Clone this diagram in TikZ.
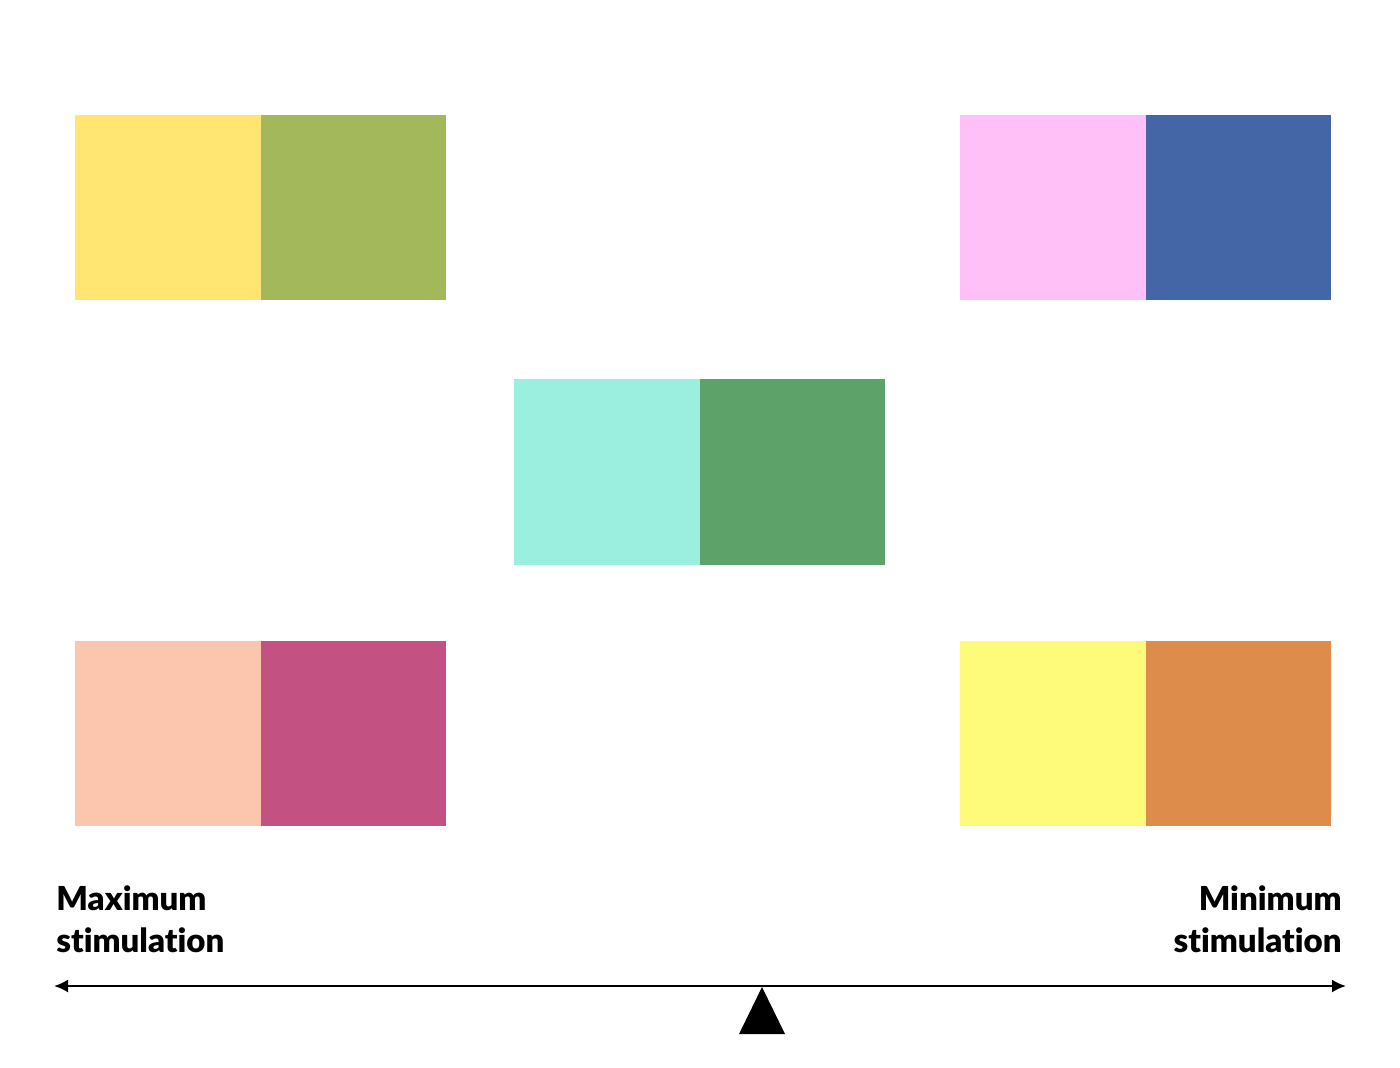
\documentclass[tikz,border=0pt]{standalone}
\usepackage{fontspec}
\setmainfont{Lato}[BoldFont={Lato Black},Ligatures=NoCommon]
\usetikzlibrary{arrows.meta}
\definecolor{cYellow}{HTML}{FFE673}
\definecolor{cOlive}{HTML}{A3B85B}
\definecolor{cPink}{HTML}{FFC0F8}
\definecolor{cBlue}{HTML}{4466A6}
\definecolor{cAqua}{HTML}{9AEFDF}
\definecolor{cGreen}{HTML}{5DA268}
\definecolor{cPeach}{HTML}{FCC5AE}
\definecolor{cMagenta}{HTML}{C35283}
\definecolor{cLemon}{HTML}{FFFB7A}
\definecolor{cOrange}{HTML}{DE8C4C}
\begin{document}
\begin{tikzpicture}[x=0.5pt,y=-0.5pt,
  swatch/.style={draw=none},
  label/.style={inner sep=0pt,font=\bfseries\fontsize{16.5}{21}\selectfont},
  axis/.style={line width=1.1pt,{Latex[length=7pt,width=6.5pt]}-{Latex[length=7pt,width=6.5pt]}}]
\useasboundingbox[fill=white] (0,0) rectangle (1400,1067);
% top left
\fill[cYellow] (75,115) rectangle (261,300);
\fill[cOlive] (261,115) rectangle (446,300);
% top right
\fill[cPink] (960,115) rectangle (1146,300);
\fill[cBlue] (1146,115) rectangle (1331,300);
% middle
\fill[cAqua] (514,379) rectangle (700,565);
\fill[cGreen] (700,379) rectangle (885,565);
% bottom left
\fill[cPeach] (75,641) rectangle (261,826);
\fill[cMagenta] (261,641) rectangle (446,826);
% bottom right
\fill[cLemon] (960,641) rectangle (1146,826);
\fill[cOrange] (1146,641) rectangle (1331,826);
% labels
\node[label,anchor=base west] (max1) at (56,910) {Maximum};
\node[label,anchor=base west] (max2) at (56,952) {stimulation};
\node[label,anchor=base east] (min1) at (1342,910) {Minimum};
\node[label,anchor=base east] (min2) at (1342,952) {stimulation};
% axis
\coordinate (left) at (54,986);
\coordinate (right) at (1346,986);
\draw[axis] (left) -- (right);
% fulcrum
\coordinate (apex) at (762,987);
\fill[black] (apex) -- (785,1034) -- (739,1034) -- cycle;
\end{tikzpicture}
\end{document}
